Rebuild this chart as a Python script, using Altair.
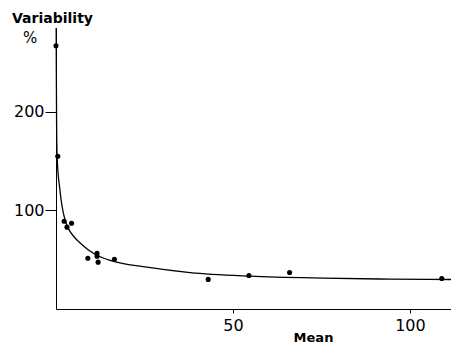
import altair as alt
import pandas as pd

# observed points (Mean, Variability %)
pt_mean = [0.0, 0.5, 2.3, 3.1, 4.4, 9.0, 11.6, 11.6, 11.9, 16.5, 43.0, 54.5, 66.0, 109.0]
pt_var = [267, 155, 89, 83, 87, 51.5, 56.5, 53.5, 47.5, 50.5, 30, 34, 37, 31]

# fitted curve
cv_mean = [0.05, 0.08, 0.15, 0.3, 1.1, 2.5, 5.4, 6.8, 11.0, 16.1, 25.7, 37.9, 54.8, 75.4, 94.4, 111.6]
cv_var = [285, 250, 200, 155, 121, 91, 72, 67, 55.5, 48.5, 42.4, 36.9, 33.3, 31.3, 30.3, 29.9]

x_ticks = [50, 100]
y_ticks = [100, 200]

pts = pd.DataFrame({"Mean": pt_mean, "Var": pt_var})
cv = pd.DataFrame({"Mean": cv_mean, "Var": cv_var, "o": list(range(len(cv_mean)))})

FONT = "DejaVu Sans"

xs = alt.Scale(domain=[0, 111.6], nice=False, zero=False)
ys = alt.Scale(domain=[0, 285], nice=False, zero=False)

xax = alt.Axis(values=x_ticks, title="Mean", grid=False, tickSize=4, labelPadding=4,
               labelFont=FONT, labelFontSize=16, labelColor="black",
               titleFont=FONT, titleFontSize=13, titleFontWeight="bold", titleColor="black",
               titleX=257, titleY=32, titleBaseline="alphabetic",
               domainColor="black", tickColor="black")
yax = alt.Axis(values=y_ticks, title="Variability", grid=False, tickSize=11, labelPadding=1,
               labelFont=FONT, labelFontSize=16, labelColor="black",
               titleFont=FONT, titleFontSize=14, titleFontWeight="bold", titleColor="black",
               titleAngle=0, titleX=-4, titleY=-6, titleAlign="center", titleBaseline="alphabetic",
               domainColor="black", tickColor="black")

line = alt.Chart(cv).mark_line(color="black", strokeWidth=1.3, interpolate="monotone").encode(
    x=alt.X("Mean:Q", scale=xs, axis=xax),
    y=alt.Y("Var:Q", scale=ys, axis=yax),
    order="o:Q",
)

dots = alt.Chart(pts).mark_circle(color="black", size=26, opacity=1).encode(
    x=alt.X("Mean:Q", scale=xs),
    y=alt.Y("Var:Q", scale=ys),
)

pct = alt.Chart(pd.DataFrame({"t": ["%"]})).mark_text(
    font=FONT, fontSize=15, color="black", align="center", baseline="middle"
).encode(x=alt.value(-26), y=alt.value(10), text="t:N")

chart = alt.layer(line, dots, pct).properties(
    width=395, height=281,
    autosize=alt.AutoSizeParams(type="none"),
    padding={"left": 48, "top": 20, "right": 0, "bottom": 34},
    background="white",
).configure_view(stroke=None)

chart.save("out.html", embed_options={"renderer": "svg", "actions": False})
